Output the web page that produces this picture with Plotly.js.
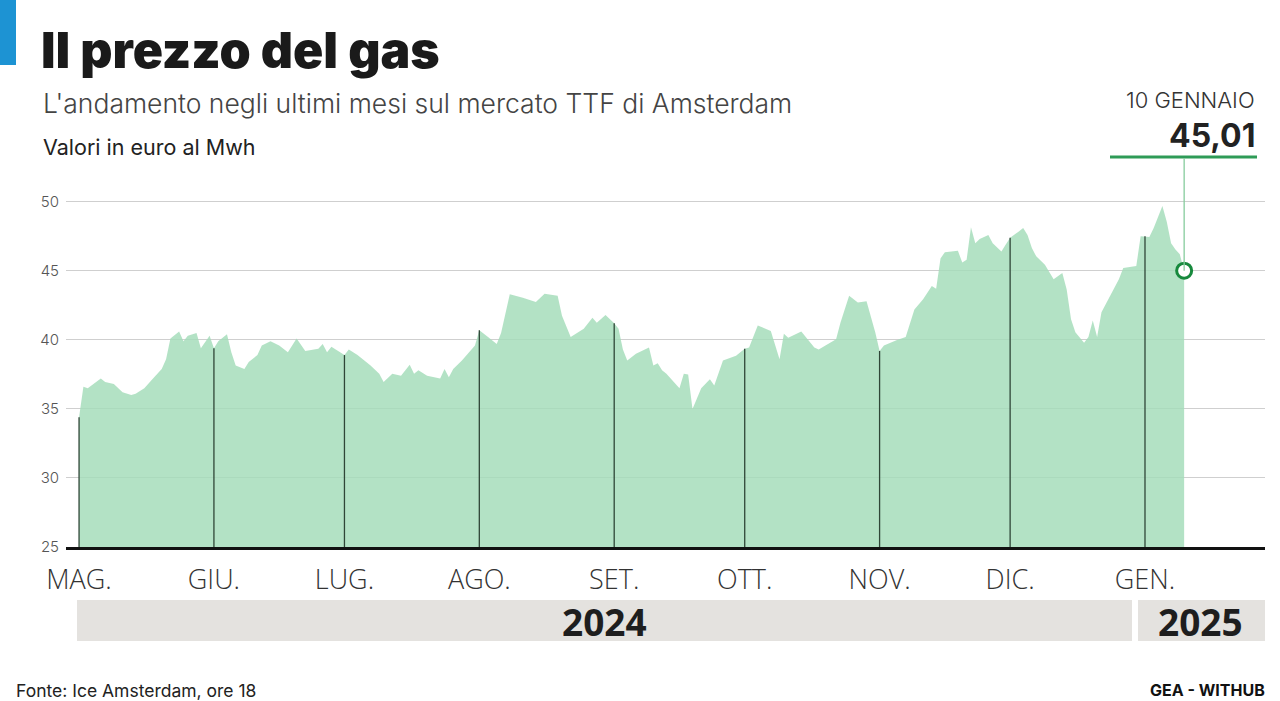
<!DOCTYPE html>
<html>
<head>
<meta charset="utf-8">
<script src="https://cdn.plot.ly/plotly-3.0.1.min.js"></script>
<style>
html,body{margin:0;padding:0;background:#fff;}
#chart{width:1280px;height:701px;}
</style>
</head>
<body>
<div id="chart"></div>
<script>
// ---- Data (TTF gas price, EUR/MWh) ----
const dates = [
 '2024-05-01','2024-05-02','2024-05-03','2024-05-06','2024-05-07','2024-05-09','2024-05-11','2024-05-13','2024-05-14','2024-05-16',
 '2024-05-18','2024-05-20','2024-05-21','2024-05-22','2024-05-24','2024-05-25','2024-05-26','2024-05-28','2024-05-29','2024-05-31',
 '2024-06-01','2024-06-02','2024-06-04','2024-06-05','2024-06-06','2024-06-08','2024-06-09','2024-06-11','2024-06-12','2024-06-14',
 '2024-06-16','2024-06-18','2024-06-20','2024-06-22','2024-06-25','2024-06-26','2024-06-27','2024-06-28','2024-06-30',
 '2024-07-01','2024-07-02','2024-07-04','2024-07-07','2024-07-09','2024-07-10','2024-07-12','2024-07-14','2024-07-16','2024-07-17',
 '2024-07-18','2024-07-20','2024-07-23','2024-07-24','2024-07-25','2024-07-26','2024-07-28','2024-07-31',
 '2024-08-01','2024-08-03','2024-08-05','2024-08-06','2024-08-08','2024-08-11','2024-08-14','2024-08-16','2024-08-19','2024-08-20',
 '2024-08-22','2024-08-25','2024-08-27','2024-08-28','2024-08-30',
 '2024-09-01','2024-09-02','2024-09-03','2024-09-04','2024-09-06','2024-09-09','2024-09-10','2024-09-11','2024-09-12','2024-09-13',
 '2024-09-16','2024-09-17','2024-09-18','2024-09-19','2024-09-21','2024-09-23','2024-09-24','2024-09-26','2024-09-29',
 '2024-10-01','2024-10-02','2024-10-04','2024-10-07','2024-10-09','2024-10-10','2024-10-11','2024-10-14','2024-10-17','2024-10-18',
 '2024-10-22','2024-10-23','2024-10-25','2024-10-27','2024-10-29','2024-10-31',
 '2024-11-01','2024-11-02','2024-11-05','2024-11-07','2024-11-09','2024-11-11','2024-11-13','2024-11-14','2024-11-15','2024-11-16',
 '2024-11-19','2024-11-20','2024-11-21','2024-11-22','2024-11-23','2024-11-24','2024-11-26','2024-11-27','2024-11-29','2024-11-30',
 '2024-12-01','2024-12-03','2024-12-04','2024-12-05','2024-12-06','2024-12-07','2024-12-09','2024-12-11','2024-12-13','2024-12-14',
 '2024-12-15','2024-12-16','2024-12-18','2024-12-19','2024-12-20','2024-12-21','2024-12-22','2024-12-24','2024-12-26','2024-12-27',
 '2024-12-30','2024-12-31',
 '2025-01-01','2025-01-02','2025-01-03','2025-01-05','2025-01-06','2025-01-07','2025-01-08','2025-01-09','2025-01-10'
];
const prices = [
 34.4,36.6,36.5,37.2,36.95,36.8,36.2,36.0,36.1,36.5,
 37.2,37.9,38.6,40.1,40.6,39.9,40.3,40.5,39.4,40.3,
 39.4,39.9,40.4,39.1,38.15,37.9,38.4,38.9,39.6,39.9,
 39.6,39.1,40.1,39.2,39.35,39.7,39.1,39.5,39.1,
 38.9,39.3,38.9,38.15,37.55,36.95,37.55,37.4,38.2,37.55,
 37.8,37.4,37.2,37.9,37.3,37.9,38.5,39.6,
 40.7,40.2,39.7,40.5,43.3,43.05,42.75,43.35,43.2,41.75,
 40.2,40.8,41.6,41.25,41.8,
 41.2,40.8,39.3,38.5,39.0,39.45,38.15,38.3,37.8,37.55,
 36.5,37.55,37.5,35.0,36.5,37.15,36.7,38.5,38.85,
 39.35,39.45,41.05,40.65,38.6,40.45,40.15,40.6,39.45,39.3,
 40.05,41.25,43.2,42.7,42.8,40.55,
 39.2,39.6,40.0,40.2,42.2,42.95,43.9,43.7,45.9,46.35,
 46.45,45.6,45.8,48.15,47.0,47.3,47.6,47.0,46.4,46.9,
 47.4,47.85,48.1,47.6,46.65,46.05,45.45,44.4,44.85,43.65,
 41.5,40.55,39.8,40.2,41.4,40.2,42.0,43.2,44.4,45.2,
 45.35,47.5,
 47.5,47.45,48.1,49.7,48.55,47.0,46.55,46.2,45.01
];
const monthTicks  = ['2024-05-01','2024-06-01','2024-07-01','2024-08-01','2024-09-01','2024-10-01','2024-11-01','2024-12-01','2025-01-01'];
const monthLabels = ['MAG.','GIU.','LUG.','AGO.','SET.','OTT.','NOV.','DIC.','GEN.'];
const yTicks = [25,30,35,40,45,50];
const years = ['2024','2025'];
const lastLabel = '10 GENNAIO';
const lastValueText = '45,01';

// ---- Derived ----
const base = 25;
const mlX = [], mlY = [];
monthTicks.forEach(function(d){
  const i = dates.indexOf(d);
  if (i >= 0) { mlX.push(d, d, null); mlY.push(base, prices[i], null); }
});
const lastDate = dates[dates.length-1];
const lastPrice = prices[prices.length-1];

const FONT = 'Inter, "Open Sans", "DejaVu Sans", sans-serif';
const FONT2 = '"Open Sans", "DejaVu Sans", sans-serif';

const traces = [
  {
    x: dates, y: prices, type: 'scatter', mode: 'lines',
    fill: 'tozeroy', fillcolor: 'rgba(162,220,184,0.82)',
    line: {color: 'rgba(162,220,184,0.0)', width: 0},
    hoverinfo: 'x+y', showlegend: false
  },
  {
    x: mlX, y: mlY, type: 'scatter', mode: 'lines',
    line: {color: '#2f4637', width: 1.3},
    hoverinfo: 'skip', showlegend: false, connectgaps: false
  },
  {
    x: [lastDate], y: [lastPrice], type: 'scatter', mode: 'markers',
    marker: {symbol: 'circle', size: 15, color: '#ffffff', line: {color: '#17893d', width: 3}},
    hoverinfo: 'x+y', showlegend: false, cliponaxis: false
  }
];

const W = 1280, H = 701, L = 66, R = 15, T = 188, B = 154;
const pw = W - L - R, ph = H - T - B;
function px(x){ return (x - L) / pw; }
function py(y){ return (H - B - y) / ph; }

const layout = {
  width: W, height: H,
  margin: {l: L, r: R, t: T, b: B, pad: 0},
  paper_bgcolor: '#ffffff', plot_bgcolor: '#ffffff',
  font: {family: FONT, color: '#333'},
  title: {
    text: 'Il prezzo del gas',
    font: {family: 'Inter, Lato, "Open Sans", sans-serif', size: 50, weight: 900, color: '#1a1a1a'},
    x: 41/W, xref: 'container', xanchor: 'left',
    y: 1 - 50/H, yref: 'container', yanchor: 'middle'
  },
  xaxis: {
    type: 'date',
    range: ['2024-04-28', '2025-01-28 14:00'],
    tickvals: monthTicks, ticktext: monthLabels,
    ticks: '', ticklabelstandoff: 7,
    tickfont: {family: FONT2, size: 27, color: '#333', weight: 300},
    showgrid: false, zeroline: false,
    showline: true, linecolor: '#111', linewidth: 3,
    fixedrange: true
  },
  yaxis: {
    range: [25, 51],
    tickvals: yTicks,
    ticks: '', ticklabelstandoff: 6,
    tickfont: {family: FONT, size: 15, color: '#555', weight: 300},
    showgrid: true, gridcolor: '#cfcfcf', gridwidth: 1,
    zeroline: false, showline: false,
    fixedrange: true
  },
  shapes: [
    {type: 'rect', xref: 'paper', yref: 'paper', x0: px(0), x1: px(16), y0: py(65), y1: py(0),
     fillcolor: '#1d93d3', line: {width: 0}},
    {type: 'line', xref: 'paper', yref: 'paper', x0: px(1110), x1: px(1257), y0: py(157), y1: py(157),
     line: {color: '#2e9b57', width: 3}},
    {type: 'rect', xref: 'paper', yref: 'paper', x0: px(77), x1: px(1132), y0: py(641), y1: py(600),
     fillcolor: '#e4e2df', line: {width: 0}, layer: 'below'},
    {type: 'rect', xref: 'paper', yref: 'paper', x0: px(1138), x1: px(1265), y0: py(641), y1: py(600),
     fillcolor: '#e4e2df', line: {width: 0}, layer: 'below'}
  ],
  annotations: [
    {x: lastDate, y: lastPrice, xref: 'x', yref: 'y', text: '', showarrow: true,
     ax: 0, ay: -((H - B - (lastPrice - 25) * ph / 26) - 157), arrowhead: 0, arrowwidth: 1.3,
     arrowcolor: '#86cc9d', standoff: 0},
    {text: "L'andamento negli ultimi mesi sul mercato TTF di Amsterdam", xref: 'paper', yref: 'paper',
     x: px(41), y: py(103), xanchor: 'left', yanchor: 'middle', showarrow: false,
     font: {family: FONT, size: 26.5, color: '#444', weight: 300}},
    {text: 'Valori in euro al Mwh', xref: 'paper', yref: 'paper',
     x: px(41), y: py(147), xanchor: 'left', yanchor: 'middle', showarrow: false,
     font: {family: FONT, size: 21.5, color: '#222', weight: 400}},
    {text: lastLabel, xref: 'paper', yref: 'paper',
     x: px(1257), y: py(100), xanchor: 'right', yanchor: 'middle', showarrow: false,
     font: {family: FONT, size: 22, color: '#333', weight: 300}},
    {text: '<b>' + lastValueText + '</b>', xref: 'paper', yref: 'paper',
     x: px(1257), y: py(135), xanchor: 'right', yanchor: 'middle', showarrow: false,
     font: {family: FONT, size: 32, color: '#222'}},
    {text: '<b>' + years[0] + '</b>', xref: 'paper', yref: 'paper',
     x: px(604), y: py(621), xanchor: 'center', yanchor: 'middle', showarrow: false,
     font: {family: FONT2, size: 37, color: '#1e1e1e'}},
    {text: '<b>' + years[1] + '</b>', xref: 'paper', yref: 'paper',
     x: px(1200), y: py(621), xanchor: 'center', yanchor: 'middle', showarrow: false,
     font: {family: FONT2, size: 37, color: '#1e1e1e'}},
    {text: 'Fonte: Ice Amsterdam, ore 18', xref: 'paper', yref: 'paper',
     x: px(14), y: py(690), xanchor: 'left', yanchor: 'middle', showarrow: false,
     font: {family: FONT, size: 17.5, color: '#222'}},
    {text: '<b>GEA - WITHUB</b>', xref: 'paper', yref: 'paper',
     x: px(1267), y: py(690), xanchor: 'right', yanchor: 'middle', showarrow: false,
     font: {family: FONT, size: 16, color: '#111'}}
  ]
};

Plotly.newPlot('chart', traces, layout, {displayModeBar: false, staticPlot: true});
</script>
</body>
</html>
